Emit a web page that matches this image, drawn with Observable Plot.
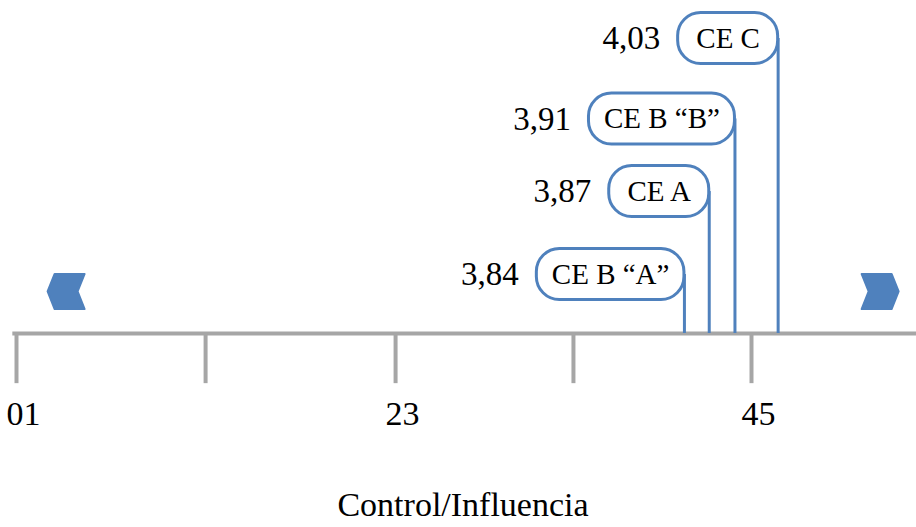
<!DOCTYPE html>
<html><head><meta charset="utf-8">
<script src="https://cdn.jsdelivr.net/npm/d3@7"></script>
<script src="https://cdn.jsdelivr.net/npm/@observablehq/plot@0.6"></script>
<style>html,body{margin:0;padding:0;background:#fff} svg{display:block}</style>
</head><body><div id="chart"></div>
<script>
// ---- data ----
const names = ["CE B “A”", "CE A", "CE B “B”", "CE C"];
const scores = ["3,84", "3,87", "3,91", "4,03"];
const positions = [3.635, 3.77, 3.91, 4.145];   // where each stem meets the axis (axis units)
const levels = [0.8, 1.925, 2.909, 4.0];          // vertical level of each label box
const tickValues = [0, 1.029, 2.063, 3.031, 4];  // tick marks as drawn (slightly uneven)
const tickLabelValues = [0, 2.063, 4];
const tickLabels = ["01", "23", "45"];
const arrowDirs = ["left", "right"];
const arrowPositions = [0.27, 4.70];
const arrowLevel = 0.57;
const axisExtent = [-0.02, 4.9];
const axisTitle = "Control/Influencia";

// ---- layout helpers ----
const W = 916, H = 527;
const xRange = [16, 751], yRange = [333, 38];
const pxPerX = (xRange[1] - xRange[0]) / 4;
const pxPerY = (yRange[0] - yRange[1]) / 4;
const font = "Liberation Serif";
const blue = "#4f81bd", gray = "#a6a6a6";
const boxFont = 29, valueFont = 33, tickFont = 34, titleFont = 34;

const ctx = document.createElement("canvas").getContext("2d");
ctx.font = `${boxFont}px "${font}"`;

const items = names.map((n, i) => {
  const tw = ctx.measureText(n).width;
  const bw = Math.max(tw + 30, 100);
  const pos = positions[i];
  return {
    name: n, score: scores[i], pos, level: levels[i],
    left: pos - bw / pxPerX,
    mid: pos - (bw / 2) / pxPerX,
    valueX: pos - (bw + 18) / pxPerX,
    y1: levels[i] - 25.5 / pxPerY,
    y2: levels[i] + 25.5 / pxPerY
  };
});

const arrows = arrowDirs.map((d, i) => ({dir: d, x: arrowPositions[i]}));
const chevron = dir => ({
  draw(c, size) {
    const r = Math.sqrt(size / Math.PI);
    const s = dir === "left" ? 1 : -1;
    c.moveTo(-r * s, 0);
    c.lineTo(-0.62 * r * s, -0.95 * r);
    c.lineTo(r * s, -0.95 * r);
    c.lineTo(0.62 * r * s, 0);
    c.lineTo(r * s, 0.95 * r);
    c.lineTo(-0.62 * r * s, 0.95 * r);
    c.closePath();
  }
});

const chart = Plot.plot({
  width: W, height: H, margin: 0,
  style: {fontFamily: font, background: "#fff", color: "#000"},
  x: {domain: [0, 4], range: xRange, axis: null},
  y: {domain: [0, 4], range: yRange, axis: null},
  marks: [
    Plot.ruleY([0], {x1: axisExtent[0], x2: axisExtent[1], stroke: gray, strokeWidth: 4}),
    Plot.ruleX(tickValues, {y1: 0, y2: -0.68, stroke: gray, strokeWidth: 4}),
    Plot.text(tickLabelValues, {x: d => d, y: -1.09, text: (d, i) => tickLabels[i], fontSize: tickFont, dx: 7, fill: "#000"}),
    Plot.text([axisTitle], {x: 2.43, y: -2.33, text: d => d, fontSize: titleFont, fill: "#000"}),
    ...arrows.map(a => Plot.dot([a], {x: "x", y: () => arrowLevel, r: 18.5, symbol: chevron(a.dir), fill: blue, stroke: blue, strokeWidth: 2, strokeLinejoin: "round"})),
    Plot.ruleX(items, {x: "pos", y1: 0, y2: "level", stroke: blue, strokeWidth: 3}),
    Plot.rect(items, {x1: "left", x2: "pos", y1: "y1", y2: "y2", rx: 23, fill: "#fff", stroke: blue, strokeWidth: 3}),
    Plot.text(items, {x: "mid", y: "level", text: "name", fontSize: boxFont, fill: "#000"}),
    Plot.text(items, {x: "valueX", y: "level", text: "score", fontSize: valueFont, textAnchor: "end", fill: "#000"})
  ]
});
document.getElementById("chart").appendChild(chart);
</script>
</body></html>
